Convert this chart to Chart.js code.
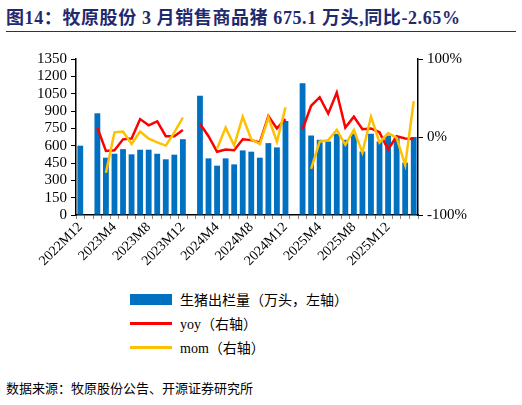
<!DOCTYPE html>
<html><head><meta charset="utf-8">
<script src="https://cdn.jsdelivr.net/npm/chart.js@4"></script>
<style>
body{margin:0;width:522px;height:405px;background:#fff;position:relative;font-family:"Liberation Serif","Noto Sans CJK SC",serif;}
#title{position:absolute;left:6px;top:3px;font-size:18px;font-weight:bold;color:#1F2A6E;white-space:nowrap;letter-spacing:0.6px;font-family:"Liberation Serif","Noto Sans CJK SC",serif;}
#rule{position:absolute;left:6px;top:31px;width:510px;height:1px;background:#333;}
#wrap{position:absolute;left:0;top:46px;width:522px;height:239px;}
#legend{position:absolute;left:130px;top:287px;font-size:14px;color:#000;}
.li{height:24px;display:flex;align-items:center;}
.sw{display:inline-block;margin-right:8px;}
#src{position:absolute;left:6px;top:378px;font-size:13px;color:#000;font-family:"Noto Sans CJK SC",sans-serif;}
</style></head><body>
<div id="title">图14：牧原股份 3 月销售商品猪 675.1 万头,同比-2.65%</div>
<div id="rule"></div>
<div id="wrap"><canvas id="c" width="522" height="239"></canvas></div>
<div id="legend">
<div class="li"><span class="sw" style="width:42px;height:11px;background:#0070C0"></span>生猪出栏量（万头，左轴）</div>
<div class="li"><span class="sw" style="width:42px;height:3px;background:#FF0000"></span>yoy（右轴）</div>
<div class="li"><span class="sw" style="width:42px;height:3px;background:#FFC000"></span>mom（右轴）</div>
</div>
<div id="src">数据来源：牧原股份公告、开源证券研究所</div>
<script>
const months = ["2022M12",
"2023M1","2023M2","2023M3","2023M4","2023M5","2023M6","2023M7","2023M8","2023M9","2023M10","2023M11","2023M12",
"2024M1","2024M2","2024M3","2024M4","2024M5","2024M6","2024M7","2024M8","2024M9","2024M10","2024M11","2024M12",
"2025M1","2025M2","2025M3","2025M4","2025M5","2025M6","2025M7","2025M8","2025M9","2025M10","2025M11","2025M12",
"2026M1","2026M2","2026M3"];
const sales = [600,
null,880,496,530,570,525,565,565,530,482,522,656,
null,1032,490,427,490,438,559,548,496,622,585,814,
null,1141,688,651,636,703,651,703,550,703,636,688,
665,453,675.1];
const yoy = [null,
null,12,-18,-17,-3,-2,23,15,20,1,1,9,
null,17,1,-19,-16,-17,-3,-4,-7,27,11,23,
null,10,40,51,30,57,12,26,10,11,6,-16,
1,-2,-2.65];
const mom = [null,
null,null,-46,6,7,-9,7,-2,-7,-11,6,25,
null,null,null,-15,12,-11,26,-3,-9,25,-6,38,
null,null,-41,-6,-4,9,-10,9,-20,26,-7,5,
-1,-36,46];
const leftTicks = [0,150,300,450,600,750,900,1050,1200,1350];
const rightTicks = [-100,0,100];
const font = {family:"Liberation Serif", size:15};
new Chart(document.getElementById('c'),{
 data:{labels:months,datasets:[
  {type:'line',label:'yoy',data:yoy,yAxisID:'y1',borderColor:'#FF0000',borderWidth:2.5,pointRadius:0,spanGaps:false,order:1},
  {type:'line',label:'mom',data:mom,yAxisID:'y1',borderColor:'#FFC000',borderWidth:2.5,pointRadius:0,spanGaps:false,order:0},
  {type:'bar',label:'生猪出栏量',data:sales,yAxisID:'y',backgroundColor:'#0070C0',barPercentage:0.68,categoryPercentage:1,order:2}
 ]},
 options:{responsive:false,animation:false,
  layout:{padding:{top:8}},
  plugins:{legend:{display:false},tooltip:{enabled:false}},
  scales:{
   x:{grid:{display:true,drawOnChartArea:false,tickLength:4,color:'#888'},border:{color:'#000',width:1.5},
      ticks:{autoSkip:false,maxRotation:45,minRotation:45,color:'#000',font:{family:"Liberation Serif",size:14},padding:0,
        callback:function(v,i){return i%4===0?months[i]:'';}},
      afterFit:function(s){s.height=70;}},
   y:{position:'left',min:0,max:1350,grid:{display:true,drawOnChartArea:false,tickLength:5,color:'#000'},border:{color:'#000',width:1.5},
      afterBuildTicks:function(s){s.ticks=leftTicks.map(v=>({value:v}));},
      ticks:{autoSkip:false,color:'#000',font:font,padding:4,callback:v=>String(v)},afterFit:function(s){s.width=76;}},
   y1:{position:'right',min:-100,max:100,grid:{display:true,drawOnChartArea:false,tickLength:5,color:'#000'},border:{color:'#000',width:1.5},
      afterBuildTicks:function(s){s.ticks=rightTicks.map(v=>({value:v}));},
      ticks:{autoSkip:false,color:'#000',font:font,padding:4,callback:v=>v+'%'},afterFit:function(s){s.width=104;}}
  }}
});
</script></body></html>
